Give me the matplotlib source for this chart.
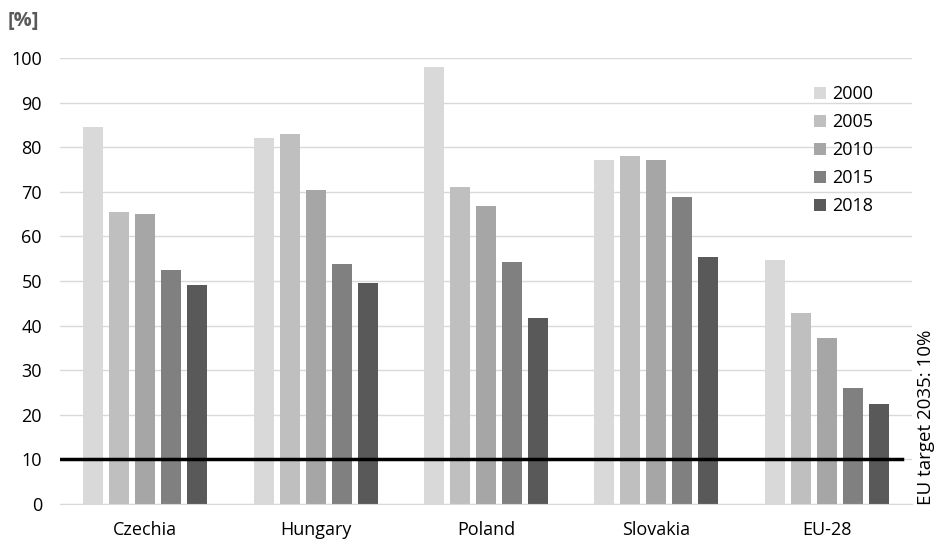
import matplotlib.pyplot as plt
import numpy as np

plt.rcParams['font.family'] = ['Open Sans', 'DejaVu Sans']

countries = ['Czechia', 'Hungary', 'Poland', 'Slovakia', 'EU-28']
years = ['2000', '2005', '2010', '2015', '2018']
v2000 = [84.5, 82.0, 98.0, 77.2, 54.7]
v2005 = [65.5, 83.0, 71.0, 78.0, 42.8]
v2010 = [65.0, 70.3, 66.8, 77.1, 37.3]
v2015 = [52.5, 53.7, 54.3, 68.8, 25.9]
v2018 = [49.0, 49.6, 41.6, 55.4, 22.5]
target = 10
colors = ['#d9d9d9', '#bfbfbf', '#a6a6a6', '#808080', '#595959']

fig = plt.figure(figsize=(9.36, 5.46), dpi=100)
ax = fig.add_axes([0.0641, 0.0769, 0.9103, 0.8169])

x = np.arange(len(countries))
pitch = 0.1526
width = 0.117
series = [v2000, v2005, v2010, v2015, v2018]
for i, (vals, yr) in enumerate(zip(series, years)):
    ax.bar(x + (i - 2) * pitch, vals, width, color=colors[i], label=yr, zorder=2)

# EU target line
ax.axhline(target, xmin=0, xmax=0.988, color='black', lw=2.5, zorder=3)

ax.set_xlim(-0.5, 4.5)
ax.set_ylim(0, 100)
ax.set_yticks(range(0, 101, 10))
ax.set_xticks(x)
ax.set_xticklabels(countries)
ax.yaxis.grid(True, color='#d9d9d9', lw=1)
ax.set_axisbelow(True)
for s in ['top', 'right', 'left']:
    ax.spines[s].set_visible(False)
ax.spines['bottom'].set_color('#d9d9d9')
ax.tick_params(axis='both', length=0, labelsize=13, colors='black')
ax.tick_params(axis='y', pad=13)
ax.tick_params(axis='x', pad=12)

fig.text(8 / 936, 1 - 21 / 546, '[%]', fontsize=14.5, fontweight='bold',
         color='#595959', va='center', ha='left')
fig.text(926 / 936, 1 - 505 / 546, 'EU target 2035: 10%', rotation=90,
         fontsize=13.5, ha='center', va='bottom')

leg = ax.legend(loc='upper left', bbox_to_anchor=(0.866, 0.975), frameon=False,
                fontsize=13, handlelength=0.65, handleheight=0.65,
                handletextpad=0.35, labelspacing=0.55)

plt.savefig('out.png', dpi=100)
